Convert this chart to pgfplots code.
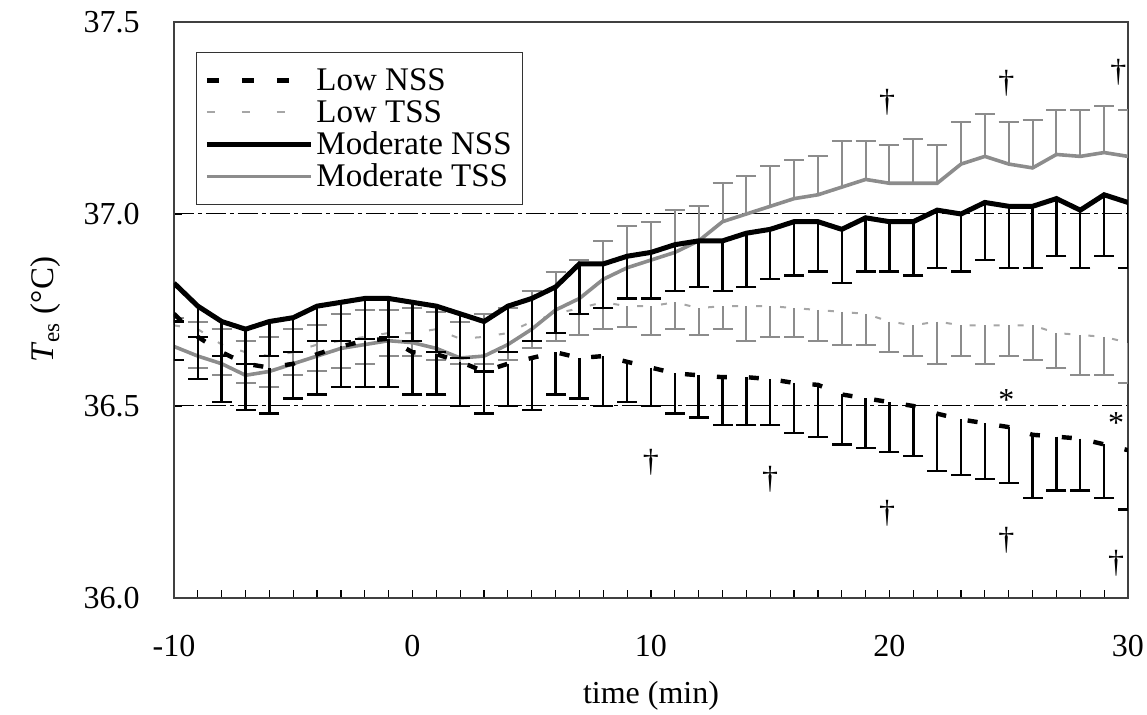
\documentclass[border=0pt]{standalone}
\usepackage{fontspec}
\setmainfont{Liberation Serif}
\usepackage{pgfplots}
\pgfplotsset{compat=1.18}
\usepackage{pgfplotstable}

% Low NSS: mean and lower end of error bar
\pgfplotstableread{
x y lo
-10 36.74 36.62
-9 36.68 36.57
-8 36.64 36.51
-7 36.61 36.49
-6 36.60 36.48
-5 36.61 36.52
-4 36.635 36.53
-3 36.655 36.55
-2 36.67 36.55
-1 36.675 36.55
0 36.64 36.53
1 36.635 36.53
2 36.615 36.50
3 36.59 36.48
4 36.61 36.50
5 36.625 36.49
6 36.64 36.53
7 36.625 36.52
8 36.63 36.50
9 36.615 36.51
10 36.60 36.50
11 36.585 36.48
12 36.58 36.47
13 36.575 36.45
14 36.575 36.45
15 36.57 36.45
16 36.56 36.43
17 36.555 36.42
18 36.53 36.40
19 36.52 36.39
20 36.51 36.38
21 36.50 36.37
22 36.48 36.33
23 36.465 36.32
24 36.455 36.31
25 36.445 36.30
26 36.425 36.26
27 36.42 36.28
28 36.415 36.28
29 36.40 36.26
30 36.385 36.23
}\lownss

% Low TSS: mean and lower end of error bar
\pgfplotstableread{
x y lo
-10 36.71 36.62
-9 36.70 36.60
-8 36.66 36.58
-7 36.64 36.56
-6 36.63 36.55
-5 36.64 36.58
-4 36.66 36.59
-3 36.67 36.60
-2 36.68 36.61
-1 36.69 36.63
0 36.69 36.63
1 36.70 36.62
2 36.675 36.61
3 36.68 36.61
4 36.69 36.62
5 36.72 36.65
6 36.74 36.67
7 36.755 36.685
8 36.77 36.70
9 36.76 36.705
10 36.76 36.685
11 36.77 36.70
12 36.755 36.685
13 36.76 36.70
14 36.76 36.67
15 36.76 36.68
16 36.755 36.68
17 36.75 36.67
18 36.745 36.66
19 36.74 36.66
20 36.72 36.64
21 36.71 36.63
22 36.72 36.61
23 36.71 36.63
24 36.71 36.61
25 36.71 36.63
26 36.71 36.62
27 36.69 36.60
28 36.685 36.58
29 36.68 36.58
30 36.665 36.56
}\lowtss

% Moderate NSS: mean and lower end of error bar
\pgfplotstableread{
x y lo
-10 36.82 36.72
-9 36.76 36.68
-8 36.72 36.63
-7 36.70 36.61
-6 36.72 36.63
-5 36.73 36.64
-4 36.76 36.67
-3 36.77 36.67
-2 36.78 36.675
-1 36.78 36.68
0 36.77 36.67
1 36.76 36.64
2 36.74 36.625
3 36.72 36.59
4 36.76 36.64
5 36.78 36.67
6 36.81 36.69
7 36.87 36.74
8 36.87 36.755
9 36.89 36.78
10 36.90 36.78
11 36.92 36.80
12 36.93 36.81
13 36.93 36.80
14 36.95 36.81
15 36.96 36.83
16 36.98 36.84
17 36.98 36.85
18 36.96 36.82
19 36.99 36.85
20 36.98 36.85
21 36.98 36.84
22 37.01 36.86
23 37.00 36.85
24 37.03 36.88
25 37.02 36.86
26 37.02 36.86
27 37.04 36.89
28 37.01 36.86
29 37.05 36.89
30 37.03 36.86
}\modnss

% Moderate TSS: mean and upper end of error bar
\pgfplotstableread{
x y hi
-10 36.655 36.73
-9 36.63 36.72
-8 36.61 36.70
-7 36.58 36.67
-6 36.59 36.68
-5 36.61 36.70
-4 36.63 36.71
-3 36.65 36.74
-2 36.66 36.75
-1 36.67 36.75
0 36.665 36.755
1 36.65 36.745
2 36.625 36.72
3 36.63 36.74
4 36.66 36.755
5 36.70 36.80
6 36.75 36.85
7 36.78 36.88
8 36.83 36.93
9 36.86 36.97
10 36.88 36.98
11 36.90 37.01
12 36.93 37.02
13 36.98 37.08
14 37.00 37.10
15 37.02 37.125
16 37.04 37.14
17 37.05 37.15
18 37.07 37.19
19 37.09 37.19
20 37.08 37.18
21 37.08 37.195
22 37.08 37.18
23 37.13 37.24
24 37.15 37.26
25 37.13 37.24
26 37.12 37.245
27 37.155 37.27
28 37.15 37.27
29 37.16 37.28
30 37.15 37.27
}\modtss

\begin{document}
\fontsize{16}{19}\selectfont
\begin{tikzpicture}
\begin{axis}[
  scale only axis, width=477pt, height=288pt,
  xmin=-10, xmax=30, ymin=36, ymax=37.5,
  xtick={-10,0,10,20,30}, xticklabels={-10,0,10,20,30},
  minor x tick num=9,
  ytick={36,36.5,37,37.5}, yticklabels={36.0,36.5,37.0,37.5},
  tick align=inside, xtick pos=left, ytick pos=left,
  major tick length=4pt, minor tick length=4pt,
  tick style={black, line width=0.6pt},
  ymajorgrids, grid style={black, line width=0.5pt, dash pattern=on 10pt off 2pt on 2pt off 2pt},
  axis line style={black!75, line width=0.7pt},
  tick label style={font=\fontsize{16}{19}\selectfont},
  yticklabel style={anchor=east, inner sep=0pt, xshift=-17pt},
  xticklabel style={anchor=base, inner sep=0pt, yshift=-29.5pt},
  xlabel={time (min)},
  xlabel style={at={([yshift=-53pt]axis description cs:0.5,0)}, anchor=base, font=\fontsize{16}{19}\selectfont},
  ylabel={\textit{T}\textsubscript{es} (°C)},
  ylabel style={at={([xshift=-64pt]axis description cs:0,0.5)}, anchor=center, font=\fontsize{16.5}{19}\selectfont},
  legend cell align=left,
  legend image code/.code={\draw[#1] (0pt,0pt) -- (52pt,0pt);},
  legend style={at={(0,1)}, anchor=north west, xshift=11pt, yshift=-15pt,
    draw=black!80, line width=0.5pt, inner xsep=4pt, inner ysep=6pt,
    row sep=0pt, font=\fontsize{16.5}{18}\selectfont,
    nodes={inner xsep=1.5pt, inner ysep=0.5pt, text height=12.5pt, text depth=2.5pt}},
]
\addlegendimage{black, line width=2.2pt, dash pattern=on 6pt off 11.5pt}
\addlegendentry{Low NSS}
\addlegendimage{black!35, line width=1pt, dash pattern=on 4pt off 13.5pt}
\addlegendentry{Low TSS}
\addlegendimage{black, line width=2.5pt}
\addlegendentry{Moderate NSS}
\addlegendimage{black!45, line width=1.8pt}
\addlegendentry{Moderate TSS}

% Low TSS
\addplot[forget plot, black!35, line width=1pt, dash pattern=on 3pt off 9pt,
  error bars/.cd, y dir=minus, y explicit, error mark=-,
  error bar style={solid, line width=1pt, black!45},
  error mark options={rotate=90, solid, line width=1pt, black!45, mark size=5pt}]
  table[x=x, y=y, y error expr=\thisrow{y}-\thisrow{lo}] {\lowtss};
% Moderate TSS
\addplot[forget plot, black!45, line width=1.8pt,
  error bars/.cd, y dir=plus, y explicit, error mark=-,
  error bar style={solid, line width=1pt, black!45},
  error mark options={rotate=90, solid, line width=1pt, black!45, mark size=5pt}]
  table[x=x, y=y, y error expr=\thisrow{hi}-\thisrow{y}] {\modtss};
% Low NSS
\addplot[forget plot, black, line width=2.2pt, dash pattern=on 5pt off 11pt,
  error bars/.cd, y dir=minus, y explicit, error mark=-,
  error bar style={solid, line width=1.2pt, black},
  error mark options={rotate=90, solid, line width=1.2pt, black, mark size=5pt}]
  table[x=x, y=y, y error expr=\thisrow{y}-\thisrow{lo}] {\lownss};
% Moderate NSS
\addplot[forget plot, black, line width=2.5pt,
  error bars/.cd, y dir=minus, y explicit, error mark=-,
  error bar style={solid, line width=1.2pt, black},
  error mark options={rotate=90, solid, line width=1.2pt, black, mark size=5pt}]
  table[x=x, y=y, y error expr=\thisrow{y}-\thisrow{lo}] {\modnss};

% significance symbols
\addplot[forget plot, only marks, mark=text, text mark={†}]
  coordinates {(19.9,37.29) (24.9,37.34) (29.6,37.37)
               (10,36.354) (15,36.31) (19.9,36.22) (24.9,36.15) (29.5,36.09)};
\addplot[forget plot, only marks, mark=text, text mark={*}]
  coordinates {(24.9,36.516) (29.5,36.456)};
\end{axis}
\pgfresetboundingbox
\path (-87pt,-58.5pt) rectangle (486.5pt,299pt);
\end{tikzpicture}
\end{document}
